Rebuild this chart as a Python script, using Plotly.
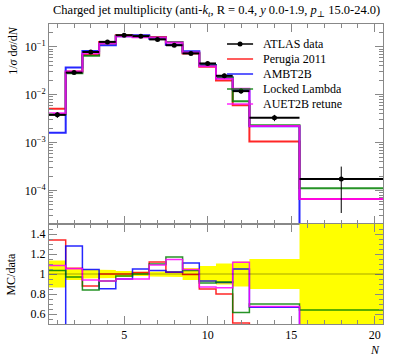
import numpy as np
import plotly.graph_objects as go

# ---------------- data ----------------
bin_edges = [0.5, 1.5, 2.5, 3.5, 4.5, 5.5, 6.5, 7.5, 8.5, 9.5, 10.5, 11.5, 12.5, 15.5, 20.5]
data_vals = [0.0038, 0.029, 0.078, 0.127, 0.175, 0.167, 0.143, 0.108, 0.073, 0.045,
             0.0249, 0.0119, 0.0033, 0.000175]
data_rel_err = [0.135, 0.06, 0.045, 0.04, 0.03, 0.02, 0.025, 0.03, 0.06, 0.08,
                0.105, 0.125, 0.15, 0.806]
perugia2011 = [0.00509, 0.0307, 0.0686, 0.127, 0.175, 0.1695, 0.160, 0.110, 0.0726, 0.0383,
               0.0199, 0.00607, 0.00106, 0.0000665]
ambt2b = [0.0016, 0.0371, 0.0815, 0.1083, 0.1663, 0.1754, 0.1479, 0.1102, 0.0810, 0.0418,
          0.0228, 0.0125, 0.0022, 0.0]
locked_lambda = [0.00393, 0.0281, 0.0655, 0.1181, 0.1715, 0.167, 0.1573, 0.1264, 0.0756, 0.0410,
                 0.0229, 0.00732, 0.00231, 0.000112]
auet2b = [0.00412, 0.0305, 0.0733, 0.1181, 0.1663, 0.1587, 0.1559, 0.1237, 0.0763, 0.0392,
          0.0215, 0.0133, 0.00223, 0.0000665]
y_tick_vals = [1e-4, 1e-3, 1e-2, 1e-1]
y_tick_text = ["10<sup>−4</sup>", "10<sup>−3</sup>", "10<sup>−2</sup>", "10<sup>−1</sup>"]
r_tick_vals = [0.6, 0.8, 1.0, 1.2, 1.4]
r_tick_text = ["0.6", "0.8", "1", "1.2", "1.4"]

series_names = ["Perugia 2011", "AMBT2B", "Locked Lambda", "AUET2B retune"]
series_vals = [perugia2011, ambt2b, locked_lambda, auet2b]
series_colors = ["rgba(255,0,0,0.85)", "rgba(0,0,255,0.85)", "rgba(0,128,0,0.85)", "rgba(255,0,255,0.85)"]

edges = np.array(bin_edges)
centers = 0.5 * (edges[:-1] + edges[1:])
halfw = 0.5 * (edges[1:] - edges[:-1])
dv = np.array(data_vals)
derr = dv * np.array(data_rel_err)

FONT = "Liberation Serif, DejaVu Serif, serif"
fig = go.Figure()

# ---------- ratio band ----------
band_x, band_y = [], []
for i in range(len(dv)):
    band_x += [edges[i], edges[i + 1]]
    band_y += [1 + data_rel_err[i], 1 + data_rel_err[i]]
for i in reversed(range(len(dv))):
    band_x += [edges[i + 1], edges[i]]
    band_y += [1 - data_rel_err[i], 1 - data_rel_err[i]]
fig.add_trace(go.Scatter(x=band_x, y=band_y, fill="toself", fillcolor="#ffff00",
                         line=dict(width=0), mode="lines", xaxis="x2", yaxis="y2",
                         hoverinfo="skip", showlegend=False))

# ---------- MC lines ----------
floor = 1e-12
for name, vals, col in zip(series_names, series_vals, series_colors):
    v = np.array(vals, dtype=float)
    vm = np.where(v > 0, v, floor)
    fig.add_trace(go.Scatter(x=edges, y=list(vm) + [vm[-1]], mode="lines",
                             line=dict(color=col, width=2, shape="hv"),
                             name=name, showlegend=False, xaxis="x", yaxis="y"))
    r = v / dv
    fig.add_trace(go.Scatter(x=edges, y=list(r) + [r[-1]], mode="lines",
                             line=dict(color=col, width=1.5, shape="hv"),
                             showlegend=False, xaxis="x2", yaxis="y2"))

# ---------- data ----------
fig.add_trace(go.Scatter(x=centers, y=dv, mode="markers",
                         marker=dict(color="black", size=5),
                         error_x=dict(type="data", array=halfw, width=0, thickness=2, color="black"),
                         error_y=dict(type="data", array=derr, width=0, thickness=1, color="black"),
                         name="ATLAS data", showlegend=False, xaxis="x", yaxis="y"))

# ---------- axes ----------
axis_col = "#888888"
minor_log = [m * 10.0 ** k for k in range(-5, 0) for m in range(2, 10)]
common_x = dict(range=[0.5, 20.5], showline=True, linecolor=axis_col, linewidth=1,
                mirror="ticks", ticks="inside", ticklen=8, tickcolor=axis_col,
                tick0=0, dtick=5, showgrid=False, zeroline=False,
                minor=dict(ticks="inside", ticklen=4, tickcolor=axis_col, dtick=1, tick0=0,
                           showgrid=False),
                tickfont=dict(family=FONT, size=12, color="black"))

fig.update_layout(
    width=397, height=358,
    margin=dict(l=49, r=14, t=24, b=34),
    plot_bgcolor="white", paper_bgcolor="white",
    showlegend=False,
    font=dict(family=FONT, color="black"),
    xaxis=dict(common_x, domain=[0, 1], anchor="y", showticklabels=False),
    yaxis=dict(type="log", domain=[1 / 3, 1], anchor="x",
               range=[np.log10(2e-5), np.log10(0.3)],
               showline=True, linecolor=axis_col, linewidth=1, mirror="ticks",
               ticks="inside", ticklen=8, tickcolor=axis_col,
               tickmode="array", tickvals=y_tick_vals, ticktext=y_tick_text,
               showgrid=False, zeroline=False,
               minor=dict(ticks="inside", ticklen=4, tickcolor=axis_col,
                          tickmode="array", tickvals=minor_log, showgrid=False),
               tickfont=dict(family=FONT, size=12, color="black")),
    xaxis2=dict(common_x, domain=[0, 1], anchor="y2", showticklabels=True),
    yaxis2=dict(domain=[0, 1 / 3], anchor="x2", range=[0.5, 1.5],
                showline=True, linecolor=axis_col, linewidth=1, mirror="ticks",
                ticks="inside", ticklen=8, tickcolor=axis_col,
                tickmode="array", tickvals=r_tick_vals, ticktext=r_tick_text,
                showgrid=False, zeroline=False,
                minor=dict(ticks="inside", ticklen=4, tickcolor=axis_col, dtick=0.05, tick0=0,
                           showgrid=False),
                tickfont=dict(family=FONT, size=12, color="black")),
)

# line at 1 in ratio
fig.add_shape(type="line", xref="x2 domain", yref="y2", x0=0, x1=1, y0=1, y1=1,
              line=dict(color="rgba(0,0,0,0.35)", width=1))

# ---------- texts ----------
fig.add_annotation(text="Charged jet multiplicity (anti-<i>k<sub>t</sub></i>, R = 0.4, <i>y</i> 0.0-1.9, <i>p</i><sub>⊥</sub> 15.0-24.0)",
                   xref="paper", yref="paper", x=0.5, y=1.0, yshift=3, xanchor="center", yanchor="bottom",
                   showarrow=False, font=dict(family=FONT, size=12.5, color="black"))
fig.add_annotation(text="1/<i>σ</i> d<i>σ</i>/d<i>N</i>", textangle=-90,
                   xref="paper", yref="paper", x=-0.11, y=1.0, xanchor="center", yanchor="top",
                   showarrow=False, font=dict(family=FONT, size=12, color="black"))
fig.add_annotation(text="MC/data", textangle=-90,
                   xref="paper", yref="paper", x=-0.115, y=1 / 6, xanchor="center", yanchor="middle",
                   showarrow=False, font=dict(family=FONT, size=12, color="black"))
fig.add_annotation(text="<i>N</i>", xref="paper", yref="paper", x=0.976, y=-0.088,
                   xanchor="center", yanchor="middle", showarrow=False,
                   font=dict(family=FONT, size=12, color="black"))

# ---------- manual legend ----------
leg_names = ["ATLAS data"] + series_names
leg_colors = ["black"] + series_colors
x0p, x1p, xt = 0.533, 0.611, 0.635
for i, (nm, col) in enumerate(zip(leg_names, leg_colors)):
    ypx = 44 + 15 * i
    yp = (324 - ypx) / 300
    fig.add_shape(type="line", xref="paper", yref="paper", x0=x0p, x1=x1p, y0=yp, y1=yp,
                  line=dict(color=col, width=1.5))
    if i == 0:
        fig.add_shape(type="circle", xref="paper", yref="paper",
                      x0=(x0p + x1p) / 2 - 2.5 / 334, x1=(x0p + x1p) / 2 + 2.5 / 334,
                      y0=yp - 2.5 / 300, y1=yp + 2.5 / 300, fillcolor="black", line=dict(width=0))
    fig.add_annotation(text=nm, xref="paper", yref="paper", x=xt, y=yp, xanchor="left",
                       yanchor="middle", showarrow=False,
                       font=dict(family=FONT, size=12, color="black"))

# remove the default 8px page margin so the figure sits at the window's top-left corner
fig.write_html("out.html", config={"displayModeBar": False},
               post_script="document.body.style.margin='0';")
